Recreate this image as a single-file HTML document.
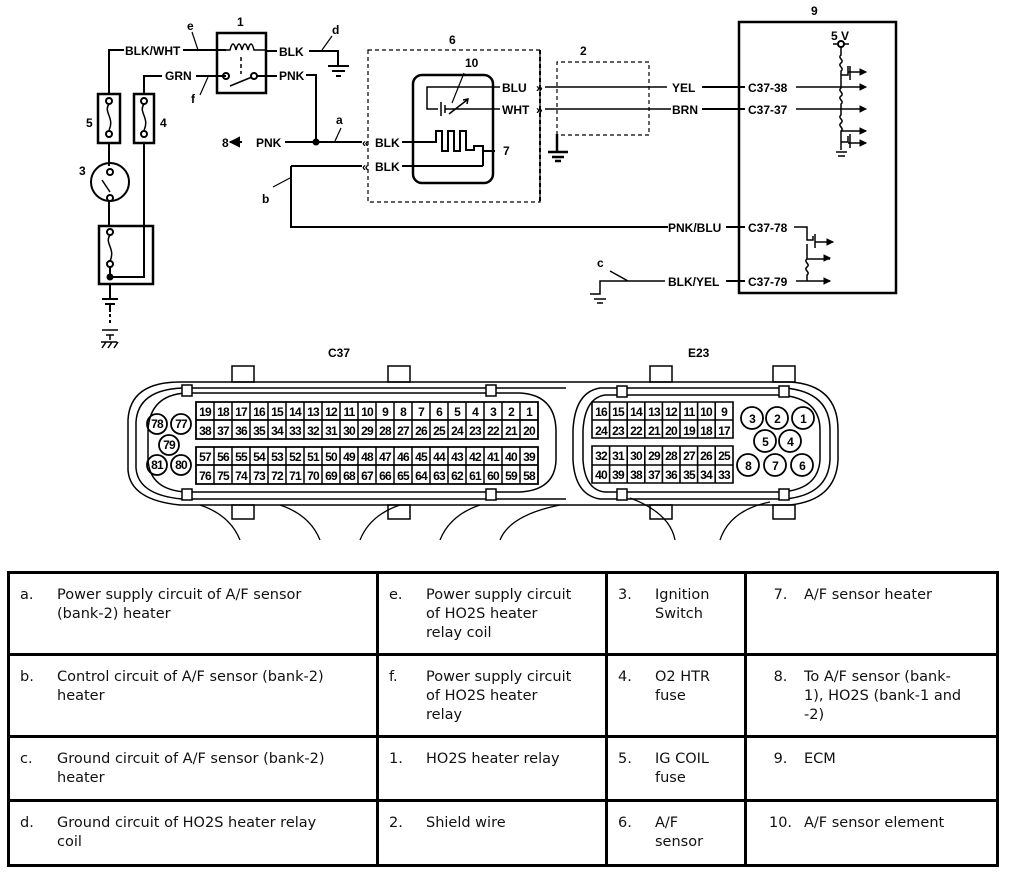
<!DOCTYPE html>
<html><head><meta charset="utf-8"><style>
body{margin:0;background:#fff;width:1024px;height:872px;overflow:hidden;position:relative;font-family:"Liberation Sans",sans-serif}
svg{position:absolute;left:0;top:0}
svg text{font-family:"Liberation Sans",sans-serif;font-weight:bold;font-size:12px;fill:#000}
.g text{font-size:12px;letter-spacing:-0.8px}
table{position:absolute;left:7px;top:571px;width:992px;height:296px;border-collapse:collapse;border:3px solid #000;font-family:"DejaVu Sans",sans-serif;font-size:14.5px;color:#111}
td{border:3px solid #000;vertical-align:top;padding:12px 8px 0 10px;line-height:19px}
td span{display:inline-block;width:37px;vertical-align:top}
td div{display:inline-block;vertical-align:top}
</style></head><body>
<svg width="1024" height="560" viewBox="0 0 1024 560" fill="none" stroke="#000" stroke-width="2">
<!-- left circuit -->
<path d="M109 94 V50 H124"/><text x="125" y="55" stroke="none">BLK/WHT</text>
<path d="M183 50 H226"/><path d="M198 50 l-6 -18" stroke-width="1.2"/><text x="187" y="30" stroke="none" font-size="10">e</text>
<path d="M144 94 V76 H162"/><text x="165" y="80" stroke="none">GRN</text><path d="M196 76 H226"/>
<path d="M208 77 l-8 18" stroke-width="1.2"/><text x="191" y="103" stroke="none" font-size="11">f</text>
<rect x="98" y="94" width="22" height="49" stroke-width="2.5"/><rect x="134" y="94" width="20" height="49" stroke-width="2.5"/>
<circle cx="109" cy="101" r="3"/><circle cx="109" cy="134" r="3"/><path d="M109 104 c-6 8 6 14 0 26" stroke-width="1.5"/>
<circle cx="144" cy="101" r="3"/><circle cx="144" cy="134" r="3"/><path d="M144 104 c-6 8 6 14 0 26" stroke-width="1.5"/>
<text x="86" y="127" stroke="none">5</text><text x="160" y="127" stroke="none">4</text>
<path d="M109 143 V166"/><circle cx="110" cy="182" r="19"/><circle cx="110" cy="172" r="3"/><circle cx="110" cy="198" r="3"/><path d="M102 180 l8 12" stroke-width="1.5"/>
<text x="79" y="175" stroke="none">3</text>
<path d="M109 201 V226"/><path d="M144 143 V277 H110"/>
<rect x="99" y="226" width="54" height="58" stroke-width="2.5"/><circle cx="110" cy="232" r="3"/><circle cx="110" cy="264" r="3"/><path d="M110 235 c-6 8 6 14 0 26" stroke-width="1.5"/><path d="M110 267 V277"/><circle cx="110" cy="277" r="2.5" fill="#000"/>
<path d="M110 284 V298 M102 299 H118 M105 304 H115 M110 305 V312" /><path d="M110 314 V326" stroke-dasharray="3 3"/><path d="M102 330 H118 M106 335 H114 M110 335 V340 M101 342 h16 M102 348 l4 -6 M108 348 l4 -6 M114 348 l4 -6" stroke-width="1.5"/>
<!-- relay -->
<rect x="217" y="33" width="49" height="60" stroke-width="2.5"/><text x="237" y="26" stroke="none">1</text>
<path d="M226 50 H230 c2-8 4-8 6 0 c2-8 4-8 6 0 c2-8 4-8 6 0 c2-8 4-8 6 0 H266" stroke-width="1.5"/>
<path d="M241 57 V74" stroke-dasharray="4 3" stroke-width="1.5"/><circle cx="226" cy="76" r="3"/><circle cx="254" cy="76" r="3"/><path d="M230 86 L252 77" stroke-width="1.5"/>
<path d="M257 76 H277 M266 51 H277"/><text x="279" y="56" stroke="none">BLK</text><text x="279" y="80" stroke="none">PNK</text>
<path d="M309 51 H338 V65 M328 66 H349 M332 71 H345 M336 76 H341" stroke-width="2"/><path d="M322 50 l10 -14" stroke-width="1.2"/><text x="332" y="34" stroke="none" font-size="11">d</text>
<path d="M306 75 H316 V142"/>
<path d="M285 142 H362"/><circle cx="316" cy="142" r="2.5" fill="#000"/><text x="222" y="147" stroke="none">8</text><path d="M230 142 H242" /><path d="M231 142 l8 -4 v8z" fill="#000"/><text x="256" y="147" stroke="none">PNK</text>
<path d="M335 141 l6 -13" stroke-width="1.2"/><text x="336" y="124" stroke="none" font-size="10">a</text>
<!-- sensor 6 -->
<rect x="368" y="50" width="172" height="152" stroke-dasharray="4 3" stroke-width="1.2"/><path d="M540 50 V202" stroke-width="2" stroke-dasharray="4 3"/>
<text x="449" y="44" stroke="none">6</text>
<rect x="413" y="75" width="80" height="108" rx="9" stroke-width="2.5"/>
<text x="362" y="147" stroke="none" font-size="11">«</text><text x="362" y="171" stroke="none" font-size="11">«</text>
<text x="375" y="147" stroke="none">BLK</text><text x="375" y="171" stroke="none">BLK</text>
<path d="M402 142 H436 V131 H442 V151 H448 V131 H454 V151 H460 V131 H466 V150 H474 V146 H483 V166 M402 166 H483 M483 151 H495"/><text x="503" y="155" stroke="none">7</text>
<path d="M500 87 H427 V109 H438 M441 102 V116 M445 105 V113 M445 109 H500 M449 114 l18 -14 M463 100 l5 -1 -1 5" stroke-width="1.5"/><path d="M452 103 l12 -30" stroke-width="1.2"/><text x="465" y="67" stroke="none" font-size="10">10</text>
<text x="502" y="92" stroke="none">BLU</text><text x="502" y="114" stroke="none">WHT</text>
<text x="536" y="92" stroke="none" font-size="11">»</text><text x="536" y="114" stroke="none" font-size="11">»</text>
<path d="M291 166 H362 M291 166 V227 H668"/><path d="M290 178 l-17 9" stroke-width="1.2"/><text x="262" y="203" stroke="none">b</text>
<!-- shield 2 -->
<path d="M557 135 V62 H649 V135 H557" stroke-dasharray="4 3" stroke-width="1.2"/><text x="580" y="55" stroke="none">2</text>
<path d="M557 134 V152 M548 152 H568 M552 157 H564 M555 161 H561" stroke-width="2.5"/>
<path d="M545 87 H667 M545 109 H671" stroke-width="1.5"/>
<text x="672" y="92" stroke="none">YEL</text><text x="672" y="114" stroke="none">BRN</text><text x="668" y="232" stroke="none">PNK/BLU</text><text x="668" y="286" stroke="none">BLK/YEL</text>
<path d="M702 87 H745 M702 109 H745 M726 227 H745 M726 281 H745"/>
<path d="M590 294 H600 V281 H665 M594 299 H606 M597 303 H603 M628 281 l-18 -10" stroke-width="1.5"/><text x="597" y="267" stroke="none" font-size="10">c</text>
<!-- ECM -->
<rect x="739" y="22" width="157" height="271" stroke-width="2.5"/><text x="811" y="15" stroke="none">9</text>
<text x="748" y="92" stroke="none">C37-38</text><text x="748" y="114" stroke="none">C37-37</text><text x="748" y="232" stroke="none">C37-78</text><text x="748" y="286" stroke="none">C37-79</text>
<text x="831" y="40" stroke="none">5 V</text><circle cx="841" cy="44" r="3"/><path d="M833 44 H838 M844 44 H849" stroke-width="1.5"/>
<path d="M841 47 V55 c-4 3 4 5 0 8 c-4 3 4 5 0 8 V88 c-4 3 4 5 0 8 c-4 3 4 5 0 8 V109 V115 c-4 3 4 5 0 8 c-4 3 4 5 0 8 V150 M836 152 H847 M838 156 H845" stroke-width="1.5"/>
<path d="M796 87 H865 M796 109 H865 M841 75 H848 V66 M850 66 V80 M848 72 H866 M841 131 H866 M841 142 H848 V136 M850 134 V148 M848 143 H866" stroke-width="1.5"/>
<path d="M866 72 l-6-3 v6z M866 87 l-6-3 v6z M866 109 l-6-3 v6z M866 131 l-6-3 v6z M866 143 l-6-3 v6z" fill="#000" stroke-width="1"/>
<path d="M794 227 H807 V240 H813 V236 M815 234 V248 M815 242 H833 M807 244 V259 H830 M807 259 c-4 3 4 5 0 8 c-4 3 4 5 0 8 V281 M796 281 H830" stroke-width="1.5"/>
<path d="M833 242 l-6-3 v6z M830 258 l-6-3 v6z M830 281 l-6-3 v6z" fill="#000" stroke-width="1"/>
<!-- C37 connector -->
<text x="328" y="357" stroke="none" font-size="11">C37</text><text x="688" y="357" stroke="none" font-size="11">E23</text>
<path d="M566 382 H180 Q130 382 128 420 V470 Q130 500 180 505 H566" stroke-width="1.5"/>
<path d="M566 388 H182 Q138 390 136 422 V468 Q138 495 182 499 H566" stroke-width="1.5"/>
<path d="M186 393 H520 Q555 395 556 430 V460 Q555 490 520 492 H186 Q150 490 148 460 V430 Q150 395 186 393 Z" stroke-width="1.5"/>
<rect x="232" y="366" width="22" height="16" stroke-width="1.5"/><rect x="388" y="366" width="22" height="16" stroke-width="1.5"/>
<rect x="232" y="505" width="22" height="14" stroke-width="1.5"/><rect x="388" y="505" width="22" height="14" stroke-width="1.5"/>
<rect x="182" y="385" width="10" height="11" fill="#fff" stroke-width="1.5"/><rect x="486" y="385" width="10" height="11" fill="#fff" stroke-width="1.5"/>
<rect x="182" y="489" width="10" height="11" fill="#fff" stroke-width="1.5"/><rect x="486" y="489" width="10" height="11" fill="#fff" stroke-width="1.5"/>
<path d="M200 505 q30 10 40 35 M280 505 q30 10 40 35 M360 540 q10 -25 40 -35 M440 540 q10 -25 40 -35 M560 505 q-50 10 -60 35" stroke-width="1.3"/>
<path d="M196 402 H538 V439 H196 Z M196 420 H538 M196 447 H538 V484 H196 Z M196 465 H538" stroke-width="1.8"/>
<path d="M214 402 V439 M232 402 V439 M250 402 V439 M268 402 V439 M286 402 V439 M304 402 V439 M322 402 V439 M340 402 V439 M358 402 V439 M376 402 V439 M394 402 V439 M412 402 V439 M430 402 V439 M448 402 V439 M466 402 V439 M484 402 V439 M502 402 V439 M520 402 V439 M214 447 V484 M232 447 V484 M250 447 V484 M268 447 V484 M286 447 V484 M304 447 V484 M322 447 V484 M340 447 V484 M358 447 V484 M376 447 V484 M394 447 V484 M412 447 V484 M430 447 V484 M448 447 V484 M466 447 V484 M484 447 V484 M502 447 V484 M520 447 V484" stroke-width="1.5"/>
<g class="g" stroke="none" text-anchor="middle">
<text x="205" y="416">19</text><text x="223" y="416">18</text><text x="241" y="416">17</text><text x="259" y="416">16</text><text x="277" y="416">15</text><text x="295" y="416">14</text><text x="313" y="416">13</text><text x="331" y="416">12</text><text x="349" y="416">11</text><text x="367" y="416">10</text><text x="385" y="416">9</text><text x="403" y="416">8</text><text x="421" y="416">7</text><text x="439" y="416">6</text><text x="457" y="416">5</text><text x="475" y="416">4</text><text x="493" y="416">3</text><text x="511" y="416">2</text><text x="529" y="416">1</text>
<text x="205" y="435">38</text><text x="223" y="435">37</text><text x="241" y="435">36</text><text x="259" y="435">35</text><text x="277" y="435">34</text><text x="295" y="435">33</text><text x="313" y="435">32</text><text x="331" y="435">31</text><text x="349" y="435">30</text><text x="367" y="435">29</text><text x="385" y="435">28</text><text x="403" y="435">27</text><text x="421" y="435">26</text><text x="439" y="435">25</text><text x="457" y="435">24</text><text x="475" y="435">23</text><text x="493" y="435">22</text><text x="511" y="435">21</text><text x="529" y="435">20</text>
<text x="205" y="461">57</text><text x="223" y="461">56</text><text x="241" y="461">55</text><text x="259" y="461">54</text><text x="277" y="461">53</text><text x="295" y="461">52</text><text x="313" y="461">51</text><text x="331" y="461">50</text><text x="349" y="461">49</text><text x="367" y="461">48</text><text x="385" y="461">47</text><text x="403" y="461">46</text><text x="421" y="461">45</text><text x="439" y="461">44</text><text x="457" y="461">43</text><text x="475" y="461">42</text><text x="493" y="461">41</text><text x="511" y="461">40</text><text x="529" y="461">39</text>
<text x="205" y="480">76</text><text x="223" y="480">75</text><text x="241" y="480">74</text><text x="259" y="480">73</text><text x="277" y="480">72</text><text x="295" y="480">71</text><text x="313" y="480">70</text><text x="331" y="480">69</text><text x="349" y="480">68</text><text x="367" y="480">67</text><text x="385" y="480">66</text><text x="403" y="480">65</text><text x="421" y="480">64</text><text x="439" y="480">63</text><text x="457" y="480">62</text><text x="475" y="480">61</text><text x="493" y="480">60</text><text x="511" y="480">59</text><text x="529" y="480">58</text>
<text x="157" y="428">78</text><text x="181" y="428">77</text><text x="169" y="449">79</text><text x="157" y="469">81</text><text x="181" y="469">80</text>
</g>
<circle cx="157" cy="424" r="10" stroke-width="1.8"/><circle cx="181" cy="424" r="10" stroke-width="1.8"/><circle cx="169" cy="445" r="10" stroke-width="1.8"/><circle cx="157" cy="465" r="10" stroke-width="1.8"/><circle cx="181" cy="465" r="10" stroke-width="1.8"/>
<!-- E23 connector -->
<path d="M566 382 H790 Q838 385 838 430 V460 Q836 500 790 505 H566" stroke-width="1.5"/>
<path d="M600 388 H785 Q830 392 830 430 V460 Q828 495 785 499 H600 Q575 495 573 460 V430 Q575 392 600 388 Z" stroke-width="1.5"/>
<path d="M605 395 H780 Q820 398 820 430 V460 Q818 490 780 492 H605 Q585 490 583 460 V430 Q585 398 605 395 Z" stroke-width="1.5"/>
<rect x="650" y="366" width="22" height="16" stroke-width="1.5"/><rect x="773" y="366" width="22" height="16" stroke-width="1.5"/>
<rect x="650" y="505" width="22" height="14" stroke-width="1.5"/><rect x="773" y="505" width="22" height="14" stroke-width="1.5"/>
<rect x="617" y="386" width="10" height="11" fill="#fff" stroke-width="1.5"/><rect x="779" y="386" width="10" height="11" fill="#fff" stroke-width="1.5"/>
<rect x="617" y="489" width="10" height="11" fill="#fff" stroke-width="1.5"/><rect x="779" y="489" width="10" height="11" fill="#fff" stroke-width="1.5"/>
<path d="M630 498 q40 15 45 42 M720 540 q10 -30 50 -38" stroke-width="1.3"/>
<path d="M592 402 H733 V438 H592 Z M592 420 H733 M592 446 H733 V483 H592 Z M592 465 H733 M609.6 402 V438 M627.2 402 V438 M644.8 402 V438 M662.4 402 V438 M680 402 V438 M697.6 402 V438 M715.2 402 V438 M609.6 446 V483 M627.2 446 V483 M644.8 446 V483 M662.4 446 V483 M680 446 V483 M697.6 446 V483 M715.2 446 V483" stroke-width="1.6"/>
<g class="g" stroke="none" text-anchor="middle">
<text x="601" y="416">16</text><text x="618" y="416">15</text><text x="636" y="416">14</text><text x="654" y="416">13</text><text x="671" y="416">12</text><text x="689" y="416">11</text><text x="706" y="416">10</text><text x="724" y="416">9</text>
<text x="601" y="435">24</text><text x="618" y="435">23</text><text x="636" y="435">22</text><text x="654" y="435">21</text><text x="671" y="435">20</text><text x="689" y="435">19</text><text x="706" y="435">18</text><text x="724" y="435">17</text>
<text x="601" y="460">32</text><text x="618" y="460">31</text><text x="636" y="460">30</text><text x="654" y="460">29</text><text x="671" y="460">28</text><text x="689" y="460">27</text><text x="706" y="460">26</text><text x="724" y="460">25</text>
<text x="601" y="479">40</text><text x="618" y="479">39</text><text x="636" y="479">38</text><text x="654" y="479">37</text><text x="671" y="479">36</text><text x="689" y="479">35</text><text x="706" y="479">34</text><text x="724" y="479">33</text>
<text x="752" y="423">3</text><text x="777" y="423">2</text><text x="803" y="423">1</text><text x="765" y="446">5</text><text x="790" y="446">4</text><text x="748" y="470">8</text><text x="775" y="470">7</text><text x="802" y="470">6</text>
</g>
<circle cx="752" cy="418" r="11" stroke-width="1.8"/><circle cx="777" cy="418" r="11" stroke-width="1.8"/><circle cx="803" cy="418" r="11" stroke-width="1.8"/><circle cx="765" cy="441" r="11" stroke-width="1.8"/><circle cx="790" cy="441" r="11" stroke-width="1.8"/><circle cx="748" cy="465" r="11" stroke-width="1.8"/><circle cx="775" cy="465" r="11" stroke-width="1.8"/><circle cx="802" cy="465" r="11" stroke-width="1.8"/>
</svg>
<table>
<colgroup><col style="width:369px"><col style="width:229px"><col style="width:139px"><col></colgroup>
<tr style="height:82px"><td><span>a.</span><div>Power supply circuit of A/F sensor<br>(bank-2) heater</div></td><td><span>e.</span><div>Power supply circuit<br>of HO2S heater<br>relay coil</div></td><td><span>3.</span><div>Ignition<br>Switch</div></td><td><span style="width:47px;text-align:center">7.</span><div>A/F sensor heater</div></td></tr>
<tr style="height:82px"><td><span>b.</span><div>Control circuit of A/F sensor (bank-2)<br>heater</div></td><td><span>f.</span><div>Power supply circuit<br>of HO2S heater<br>relay</div></td><td><span>4.</span><div>O2 HTR<br>fuse</div></td><td><span style="width:47px;text-align:center">8.</span><div>To A/F sensor (bank-<br>1), HO2S (bank-1 and<br>-2)</div></td></tr>
<tr style="height:64px"><td><span>c.</span><div>Ground circuit of A/F sensor (bank-2)<br>heater</div></td><td><span>1.</span><div>HO2S heater relay</div></td><td><span>5.</span><div>IG COIL<br>fuse</div></td><td><span style="width:47px;text-align:center">9.</span><div>ECM</div></td></tr>
<tr><td><span>d.</span><div>Ground circuit of HO2S heater relay<br>coil</div></td><td><span>2.</span><div>Shield wire</div></td><td><span>6.</span><div>A/F<br>sensor</div></td><td><span style="width:47px;text-align:center">10.</span><div>A/F sensor element</div></td></tr>
</table>
</body></html>
